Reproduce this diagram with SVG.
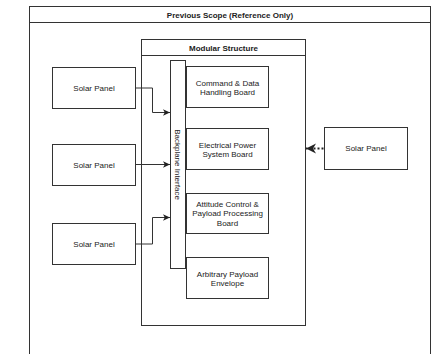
<svg xmlns="http://www.w3.org/2000/svg" width="434" height="354" viewBox="0 0 434 354">
<style>
.box{fill:#fff;stroke:#333;stroke-width:1}
.t{font-family:"Liberation Sans",Arial,sans-serif;font-size:8px;fill:#222;text-anchor:middle}
.b{font-weight:bold}
.c{fill:none;stroke:#333;stroke-width:1}
</style>
<defs>
<marker id="ah" markerWidth="8" markerHeight="8" refX="7" refY="4" orient="auto" markerUnits="userSpaceOnUse">
<path d="M0,0.8 L7,4 L0,7.2 L1.8,4 Z" fill="#222"/>
</marker>
<marker id="ah2" markerWidth="12" markerHeight="12" refX="10" refY="6" orient="auto" markerUnits="userSpaceOnUse">
<path d="M0,1 L10,6 L0,11 L3,6 Z" fill="#222"/>
</marker>
</defs>
<rect width="434" height="354" fill="#fff"/>
<g id="previous-scope">
<rect class="box" x="29.5" y="6.5" width="401" height="360"/>
<line class="c" x1="29.5" y1="22.5" x2="430.5" y2="22.5"/>
<text class="t b" x="230" y="17.5">Previous Scope (Reference Only)</text>
</g>
<g id="modular-structure">
<rect class="box" x="141.5" y="39.5" width="164" height="286"/>
<line class="c" x1="141.5" y1="55.5" x2="305.5" y2="55.5"/>
<text class="t b" x="223.5" y="50.5">Modular Structure</text>
</g>
<g id="backplane">
<rect class="box" x="170.5" y="60.5" width="15" height="208"/>
<text class="t" transform="translate(175 164.5) rotate(90)" x="0" y="0">Backplane Interface</text>
</g>
<g id="cdh">
<rect class="box" x="186.5" y="66.5" width="82" height="41"/>
<text class="t" x="227.5" y="85.5">Command &amp; Data</text>
<text class="t" x="227.5" y="95">Handling Board</text>
</g>
<g id="eps">
<rect class="box" x="186.5" y="128.5" width="82" height="41"/>
<text class="t" x="227.5" y="147.5">Electrical Power</text>
<text class="t" x="227.5" y="157">System Board</text>
</g>
<g id="adcs">
<rect class="box" x="186.5" y="193.5" width="82" height="40"/>
<text class="t" x="227.5" y="206.5">Attitude Control &amp;</text>
<text class="t" x="227.5" y="216">Payload Processing</text>
<text class="t" x="227.5" y="225.5">Board</text>
</g>
<g id="payload">
<rect class="box" x="186.5" y="257.5" width="82" height="41"/>
<text class="t" x="227.5" y="276.5">Arbitrary Payload</text>
<text class="t" x="227.5" y="286">Envelope</text>
</g>
<g id="solar1">
<rect class="box" x="52.5" y="67.5" width="83" height="41"/>
<text class="t" x="94" y="90.5">Solar Panel</text>
</g>
<g id="solar2">
<rect class="box" x="52.5" y="144.5" width="83" height="41"/>
<text class="t" x="94" y="167.5">Solar Panel</text>
</g>
<g id="solar3">
<rect class="box" x="52.5" y="223.5" width="83" height="41"/>
<text class="t" x="94" y="246.5">Solar Panel</text>
</g>
<g id="solar4">
<rect class="box" x="324.5" y="127.5" width="83" height="42"/>
<text class="t" x="366" y="151">Solar Panel</text>
</g>
<g id="connectors">
<path class="c" d="M135.5,88 H152.5 V112.5 H170" marker-end="url(#ah)"/>
<path class="c" d="M135.5,164.5 H170" marker-end="url(#ah)"/>
<path class="c" d="M135.5,244 H152.5 V217.5 H170" marker-end="url(#ah)"/>
<path d="M323.5,148.5 H306" fill="none" stroke="#222" stroke-width="2" stroke-dasharray="2,2" marker-end="url(#ah2)"/>
</g>
</svg>
